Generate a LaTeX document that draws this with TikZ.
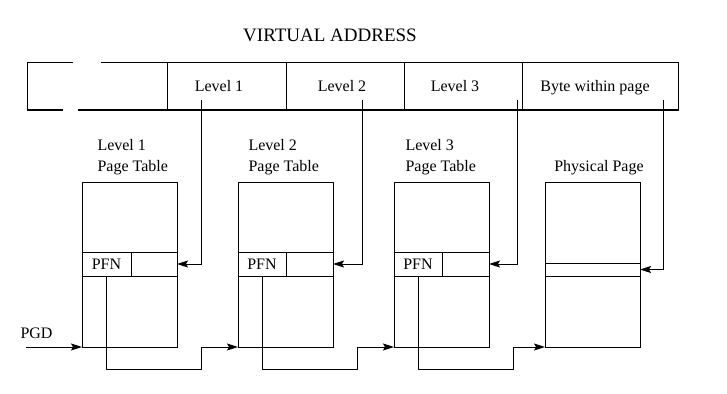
\documentclass[tikz,border=0pt]{standalone}
\usepackage{fontspec}
\setmainfont{Liberation Serif}
\usetikzlibrary{arrows.meta}
\begin{document}
\begin{tikzpicture}[x=1pt,y=-1pt,line width=1pt,
  cell/.style={draw, inner sep=0pt, outer sep=0pt, anchor=north west, font=\fontsize{16}{19}\selectfont},
  lbl/.style={font=\fontsize{16}{19}\selectfont, inner sep=0pt},
  ttl/.style={font=\fontsize{19}{22}\selectfont, inner sep=0pt},
  arr/.style={-{Stealth[length=11pt,width=7pt,inset=2pt]}},
  field/.style={cell, minimum height=47pt},
  table/.style={cell, minimum width=95pt, minimum height=165pt},
]
\useasboundingbox (0,0) rectangle (727,393);

% title
\node[ttl, anchor=base] (title) at (330,42) {VIRTUAL ADDRESS};

% virtual address fields
\draw (73,63) -- (27,63) -- (27,110) -- (63,110);
\draw (101,63) -- (167,63);
\draw (78,110) -- (167,110);
\node[field, minimum width=119pt] (f1) at (167,63) {};
\node[field, minimum width=118pt] (f2) at (286,63) {};
\node[field, minimum width=118pt] (f3) at (404,63) {};
\node[field, minimum width=156pt] (f4) at (522,63) {};
\node[lbl, anchor=base] (l1) at (219,92) {Level 1};
\node[lbl, anchor=base] (l2) at (342,92) {Level 2};
\node[lbl, anchor=base] (l3) at (455,92) {Level 3};
\node[lbl, anchor=base] (l4) at (595,92) {Byte within page};

% table labels
\node[lbl, anchor=base west] (t1a) at (97,150) {Level 1};
\node[lbl, anchor=base west] (t1b) at (97,171) {Page Table};
\node[lbl, anchor=base west] (t2a) at (248,150) {Level 2};
\node[lbl, anchor=base west] (t2b) at (248,171) {Page Table};
\node[lbl, anchor=base west] (t3a) at (405,150) {Level 3};
\node[lbl, anchor=base west] (t3b) at (405,171) {Page Table};
\node[lbl, anchor=base] (t4) at (599,171) {Physical Page};

% tables
\node[table] (pt1) at (82,182) {};
\node[table] (pt2) at (238,182) {};
\node[table] (pt3) at (394,182) {};
\node[table] (pt4) at (545,182) {};
\node[cell, minimum width=49pt, minimum height=24pt] (pfn1) at (82,252) {PFN};
\node[cell, minimum width=46pt, minimum height=24pt] (r1) at (131,252) {};
\node[cell, minimum width=48pt, minimum height=24pt] (pfn2) at (238,252) {PFN};
\node[cell, minimum width=47pt, minimum height=24pt] (r2) at (286,252) {};
\node[cell, minimum width=48pt, minimum height=24pt] (pfn3) at (394,252) {PFN};
\node[cell, minimum width=47pt, minimum height=24pt] (r3) at (442,252) {};
\node[cell, minimum width=95pt, minimum height=13pt] (r4) at (545,263) {};

% index connectors
\coordinate (d1) at (201,100);
\coordinate (d2) at (362,100);
\coordinate (d3) at (517,100);
\coordinate (d4) at (663,100);
\draw[arr] (d1) |- (r1.east);
\draw[arr] (d2) |- (r2.east);
\draw[arr] (d3) |- (r3.east);
\draw[arr] (d4) |- (r4.east);

% PFN chain
\coordinate (s1) at (201,369);
\coordinate (s2) at (357,369);
\coordinate (s3) at (513,369);
\draw[arr] (pfn1.south) |- (s1) |- (pt2.south west);
\draw[arr] (pfn2.south) |- (s2) |- (pt3.south west);
\draw[arr] (pfn3.south) |- (s3) |- (pt4.south west);

% PGD
\node[lbl, anchor=base west] (pgd) at (20,338) {PGD};
\coordinate (pgds) at (26,347);
\draw[arr] (pgds) -- (pt1.south west);
\end{tikzpicture}
\end{document}
